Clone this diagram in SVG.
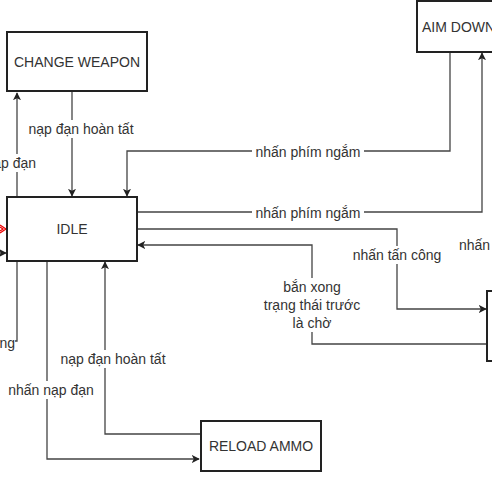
<svg xmlns="http://www.w3.org/2000/svg" width="492" height="492" viewBox="0 0 492 492">
<defs>
<marker id="arr" viewBox="0 0 10 10" refX="9" refY="5" markerWidth="8" markerHeight="8" markerUnits="userSpaceOnUse" orient="auto">
<path d="M0,0 L10,5 L0,10 L2.5,5 z" fill="#222"/>
</marker>
<style>
.box{fill:#fff;stroke:#222;stroke-width:2}
.t{font-family:"Liberation Sans",Arial,sans-serif;font-size:14px;fill:#333;text-anchor:middle}
.l{font-family:"Liberation Sans",Arial,sans-serif;font-size:14px;fill:#333;text-anchor:middle}
.c{fill:none;stroke:#444;stroke-width:1.3}
.bg{fill:#fff}
</style>
</defs>
<rect width="492" height="492" fill="#fff"/>
<g id="connectors">
<path class="c" d="M17,197 V93" marker-end="url(#arr)"/>
<path class="c" d="M72,91 V196" marker-end="url(#arr)"/>
<path class="c" d="M450,52 V151 H127 V196" marker-end="url(#arr)"/>
<path class="c" d="M137,212 H482 V53" marker-end="url(#arr)"/>
<path class="c" d="M137,229 H397 V309 H486" marker-end="url(#arr)"/>
<path class="c" d="M487,344 H312 V245 H138" marker-end="url(#arr)"/>
<path class="c" d="M17,261 V341 H-10"/>
<path class="c" d="M-10,253 H6" marker-end="url(#arr)"/>
<path d="M0,225 L6,229 L0,233 M0,227 L3,229 L0,231" fill="none" stroke="#e00" stroke-width="1.2"/>
<path class="c" d="M47,261 V459 H199" marker-end="url(#arr)"/>
<path class="c" d="M201,434 H105 V262" marker-end="url(#arr)"/>
<g id="labels">
<rect class="bg" x="-40" y="154" width="76" height="18"/>
<text class="l" x="36" y="168" style="text-anchor:end">nhấn nạp đạn</text>
<rect class="bg" x="29" y="120" width="104" height="18"/>
<text class="l" x="81" y="134">nạp đạn hoàn tất</text>
<rect class="bg" x="252" y="143" width="112" height="18"/>
<text class="l" x="308" y="157">nhấn phím ngắm</text>
<rect class="bg" x="252" y="204" width="112" height="18"/>
<text class="l" x="308" y="218">nhấn phím ngắm</text>
<rect class="bg" x="349" y="246" width="96" height="18"/>
<text class="l" x="397" y="260">nhấn tấn công</text>
<rect class="bg" x="262" y="278" width="100" height="54"/>
<text class="l" x="312" y="292">bắn xong</text>
<text class="l" x="312" y="310">trạng thái trước</text>
<text class="l" x="312" y="328">là chờ</text>
<rect class="bg" x="-60" y="334" width="75" height="18"/>
<text class="l" x="15" y="348" style="text-anchor:end">nhấn đổi súng</text>
<rect class="bg" x="5" y="381" width="92" height="18"/>
<text class="l" x="51" y="395">nhấn nạp đạn</text>
<rect class="bg" x="61" y="350" width="104" height="18"/>
<text class="l" x="113" y="364">nạp đạn hoàn tất</text>
<text class="l" x="459" y="250" style="text-anchor:start">nhấn tấn công</text>
</g>
</g>
<g id="change-weapon"><rect class="box" x="7" y="32" width="140" height="59"/><text class="t" x="77" y="67">CHANGE WEAPON</text></g>
<g id="idle"><rect class="box" x="7" y="197" width="130" height="64"/><text class="t" x="72" y="234">IDLE</text></g>
<g id="aim-down"><rect class="box" x="417" y="1" width="120" height="51"/><text class="t" x="422" y="32" style="text-anchor:start">AIM DOWN</text></g>
<g id="reload-ammo"><rect class="box" x="201" y="421" width="120" height="50"/><text class="t" x="261" y="451">RELOAD AMMO</text></g>
<g id="attack"><rect class="box" x="487" y="291" width="60" height="70"/></g>
</svg>
